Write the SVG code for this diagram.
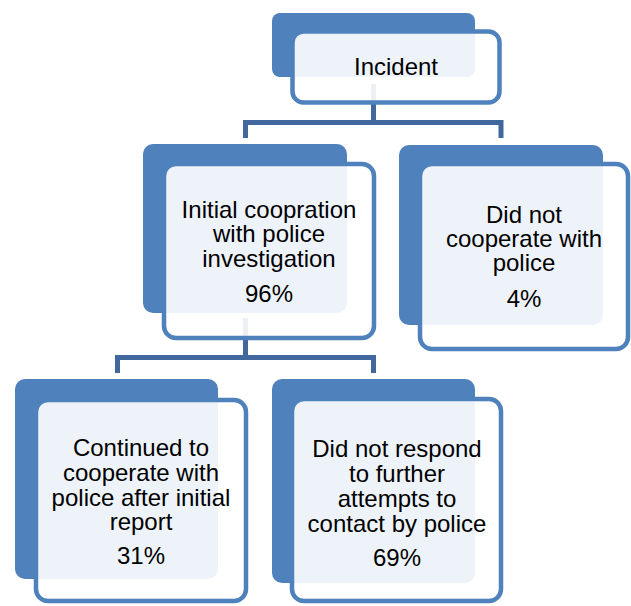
<svg xmlns="http://www.w3.org/2000/svg" width="631" height="606" viewBox="0 0 631 606">
<style>
.back{fill:#4F81BD}
.front{fill:#FFFFFF;fill-opacity:0.9;stroke:#4F81BD;stroke-width:4.5}
.conn{fill:none;stroke:#41689C;stroke-width:5}
text{font-family:"Liberation Sans",Arial,sans-serif;font-size:24px;fill:#000;text-anchor:middle}
</style>
<rect width="631" height="606" fill="#FFFFFF"/>
<g id="connectors">
<path class="conn" d="M373.5 84 V122.5 M245.5 138 V122.5 H501 V138"/>
<path class="conn" d="M245.5 318 V357.5 M117.5 373 V357.5 H373.5 V373"/>
</g>
<g id="incident">
<rect class="back" x="272" y="13" width="203" height="64" rx="8"/>
<rect class="front" x="292.5" y="31.5" width="207" height="71" rx="11"/>
<text x="396" y="75">Incident</text>
</g>
<g id="initial">
<rect class="back" x="143" y="144" width="204" height="169" rx="10"/>
<rect class="front" x="164" y="164" width="210" height="174" rx="12"/>
<text x="269" y="218">Initial coopration</text>
<text x="269" y="242">with police</text>
<text x="269" y="267">investigation</text>
<text x="269" y="302">96%</text>
</g>
<g id="notcoop">
<rect class="back" x="399" y="145" width="204" height="180" rx="10"/>
<rect class="front" x="420" y="164" width="208" height="185" rx="12"/>
<text x="524" y="223">Did not</text>
<text x="524" y="247">cooperate with</text>
<text x="524" y="271">police</text>
<text x="524" y="307">4%</text>
</g>
<g id="continued">
<rect class="back" x="15" y="379" width="203" height="200" rx="10"/>
<rect class="front" x="36" y="400" width="210" height="201" rx="12"/>
<text x="141" y="456">Continued to</text>
<text x="141" y="481">cooperate with</text>
<text x="141" y="506">police after initial</text>
<text x="141" y="530">report</text>
<text x="141" y="564">31%</text>
</g>
<g id="norespond">
<rect class="back" x="272" y="379" width="203" height="204" rx="10"/>
<rect class="front" x="292" y="399" width="209" height="202" rx="12"/>
<text x="397" y="457">Did not respond</text>
<text x="397" y="482">to further</text>
<text x="397" y="507">attempts to</text>
<text x="397" y="532">contact by police</text>
<text x="397" y="566">69%</text>
</g>
</svg>
